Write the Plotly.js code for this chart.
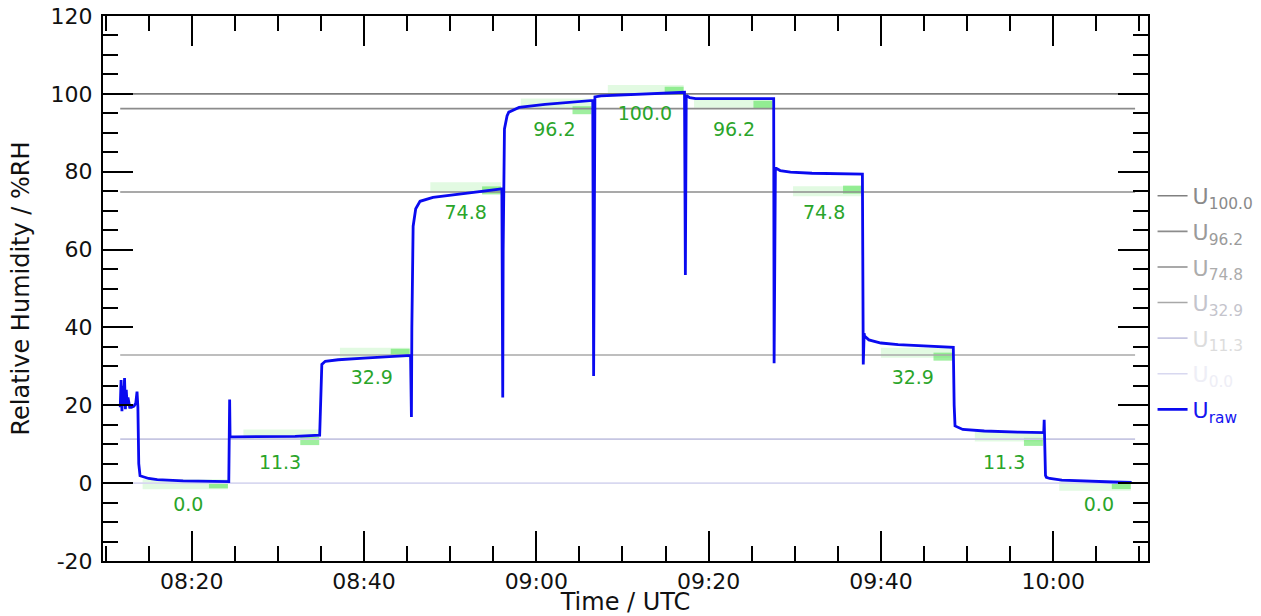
<!DOCTYPE html>
<html><head><meta charset="utf-8">
<script src="https://cdn.plot.ly/plotly-3.0.1.min.js"></script>
<style>html,body{margin:0;padding:0;background:#fff}#chart{width:1261px;height:616px}</style>
</head><body><div id="chart"></div>
<script>
// Time in minutes after 08:00 UTC, raw humidity in %RH
const rawMinutes = [11.7,11.8,11.9,12.0,12.1,12.2,12.3,12.4,12.5,12.6,12.8,13.0,13.3,13.5,13.65,13.75,13.85,14.0,15,16,19,24.3,
  24.4,24.45,25,28,32,34.85,
  34.95,35.1,35.5,37,40,43,45.4,
  45.5,45.55,45.7,46.0,46.5,48,52,56.0,
  56.1,56.15,56.3,56.6,56.8,58,61,64,66.55,
  66.65,66.7,66.8,67.5,70,74,77.2,
  77.3,77.4,77.8,78.5,82,87.55,
  87.6,87.65,87.75,88.3,89.5,92,97.85,
  97.95,98.05,98.1,98.6,100,102,105,108.4,
  108.5,108.6,109.5,112,116,118.9,118.95,119.0,119.1,
  119.2,119.6,121,124,127,129.1];
const rawValues = [19.5,26.5,18.5,25,20,27,19,24,20,22,19.5,19.5,19.8,20.5,23.5,19.5,5,1.9,1.2,0.9,0.6,0.4,
  21.5,11.9,11.9,11.9,12.0,12.3,
  20,30.5,31.3,31.7,32.1,32.4,32.8,
  17,40,66,70.5,72.4,73.4,74.5,75.6,
  22,60,91,94.3,95.3,96.5,97.3,97.9,98.3,
  27.5,70,99.2,99.5,99.7,100.1,100.4,
  53.5,99.6,99.0,98.8,98.8,98.8,
  30.8,60,81.0,80.3,79.9,79.6,79.4,
  30.5,38.5,37.8,36.8,36.0,35.6,35.2,34.9,
  20,14.7,13.8,13.4,13.1,13.0,16.3,12.5,2,
  1.5,1.2,0.8,0.5,0.3,0.2];

// Reference humidity levels
const refNames = ['100.0','96.2','74.8','32.9','11.3','0.0'];
const refValues = [100.0,96.2,74.8,32.9,11.3,0.0];
const refLineColors = ['#808080','#8c8c8c','#8c8c8c','#a8a8a8','#c6c6e2','#d8d8f0'];
const refTextColors = ['#8a8a8a','#9a9a9a','#acacac','#c4c4cc','#dcdcdc','#eeeef6'];
const refStart = 11.7, refEnd = 129.5;

// Y tick labels
const yTickValues = [-20,0,20,40,60,80,100,120];
const yTickLabels = ['-20','0','20','40','60','80','100','120'];

// Step labels and averaging windows
const stepLabels = ['0.0','11.3','32.9','74.8','96.2','100.0','96.2','74.8','32.9','11.3','0.0'];
const labelMinutes = [19.6,30.25,40.9,51.8,62.1,72.6,82.95,93.4,103.7,114.3,125.3];
const labelValues = [-5.9,4.9,26.7,69.2,90.5,94.4,90.5,69.2,26.7,4.9,-5.9];
const bandStart = [14.3,26.0,37.2,47.7,58.2,68.3,78.3,89.8,100.0,110.9,120.7];
const bandEnd = [24.2,34.8,45.3,55.9,66.4,77.1,87.4,97.8,108.3,118.8,129.0];
const bandLevel = [-0.3,12.5,33.5,76.0,97.5,101.0,97.7,75.0,33.5,12.0,-0.7];
const brightLevel = [-0.3,10.8,33.5,75.2,95.8,100.8,97.2,75.4,32.5,10.6,-0.5];
const brightLength = 2.2;

function tm(m){
  const ms = Date.UTC(2024,0,1,8,0,0) + Math.round(m*60000);
  return new Date(ms).toISOString().replace('T',' ').replace('Z','');
}

const traces = [];
// faint and bright green averaging bands
for (let i=0;i<bandStart.length;i++){
  traces.push({x:[tm(bandStart[i]),tm(bandEnd[i])],y:[bandLevel[i],bandLevel[i]],mode:'lines',
    line:{color:'rgba(110,230,110,0.2)',width:10},showlegend:false,hoverinfo:'skip'});
  traces.push({x:[tm(bandEnd[i]-brightLength),tm(bandEnd[i])],y:[brightLevel[i],brightLevel[i]],mode:'lines',
    line:{color:'rgba(80,225,80,0.55)',width:8},showlegend:false,hoverinfo:'skip'});
}
// reference lines with legend
for (let i=0;i<refValues.length;i++){
  traces.push({x:[tm(refStart),tm(refEnd)],y:[refValues[i],refValues[i]],mode:'lines',
    line:{color:refLineColors[i],width:1.6},
    name:'<span style="color:'+refTextColors[i]+'">U<sub>'+refNames[i]+'</sub></span>',
    legendgroup:'g'+i,hoverinfo:'skip'});
}
// green step labels
traces.push({x:labelMinutes.map(tm),y:labelValues,mode:'text',text:stepLabels,
  textfont:{family:'DejaVu Sans',size:19,color:'#2aa52a'},showlegend:false,hoverinfo:'skip'});
// raw humidity
traces.push({x:rawMinutes.map(tm),y:rawValues,mode:'lines',line:{color:'#0a0af0',width:2.8},
  name:'<span style="color:#1515f0">U<sub>raw</sub></span>',legendgroup:'raw'});

const axisCommon = {showline:true,linecolor:'#000',linewidth:2,mirror:'allticks',ticks:'inside',
  tickcolor:'#000',tickwidth:2,ticklen:30,showgrid:false,zeroline:false,
  tickfont:{family:'DejaVu Sans',size:22,color:'#111'}};

const layout = {
  width:1261,height:616,
  margin:{l:103,r:113,t:16,b:55,autoexpand:false},
  paper_bgcolor:'#fff',plot_bgcolor:'#fff',
  font:{family:'DejaVu Sans',color:'#111'},
  xaxis:Object.assign({},axisCommon,{type:'date',range:[tm(9.7),tm(131.0)],
    tick0:tm(0),dtick:1200000,tickformat:'%H:%M',
    minor:{ticks:'inside',ticklen:15,tickwidth:2,tickcolor:'#000',dtick:300000,tick0:tm(0)},
    title:{text:'Time / UTC',font:{family:'DejaVu Sans',size:24,color:'#111'},standoff:0}}),
  yaxis:Object.assign({},axisCommon,{range:[-20,120],tickmode:'array',tickvals:yTickValues,ticktext:yTickLabels,
    ticklabelstandoff:4,
    minor:{ticks:'inside',ticklen:15,tickwidth:2,tickcolor:'#000',dtick:5,tick0:0},
    title:{text:'Relative Humidity / %RH',font:{family:'DejaVu Sans',size:24,color:'#111'},standoff:14}}),
  legend:{xref:'container',yref:'container',x:0.914,y:0.716,xanchor:'left',yanchor:'top',bgcolor:'rgba(0,0,0,0)',
    font:{family:'DejaVu Sans',size:22},traceorder:'grouped',tracegroupgap:4,itemwidth:30},
  showlegend:true
};
Plotly.newPlot('chart',traces,layout,{displayModeBar:false,staticPlot:true});
</script></body></html>
